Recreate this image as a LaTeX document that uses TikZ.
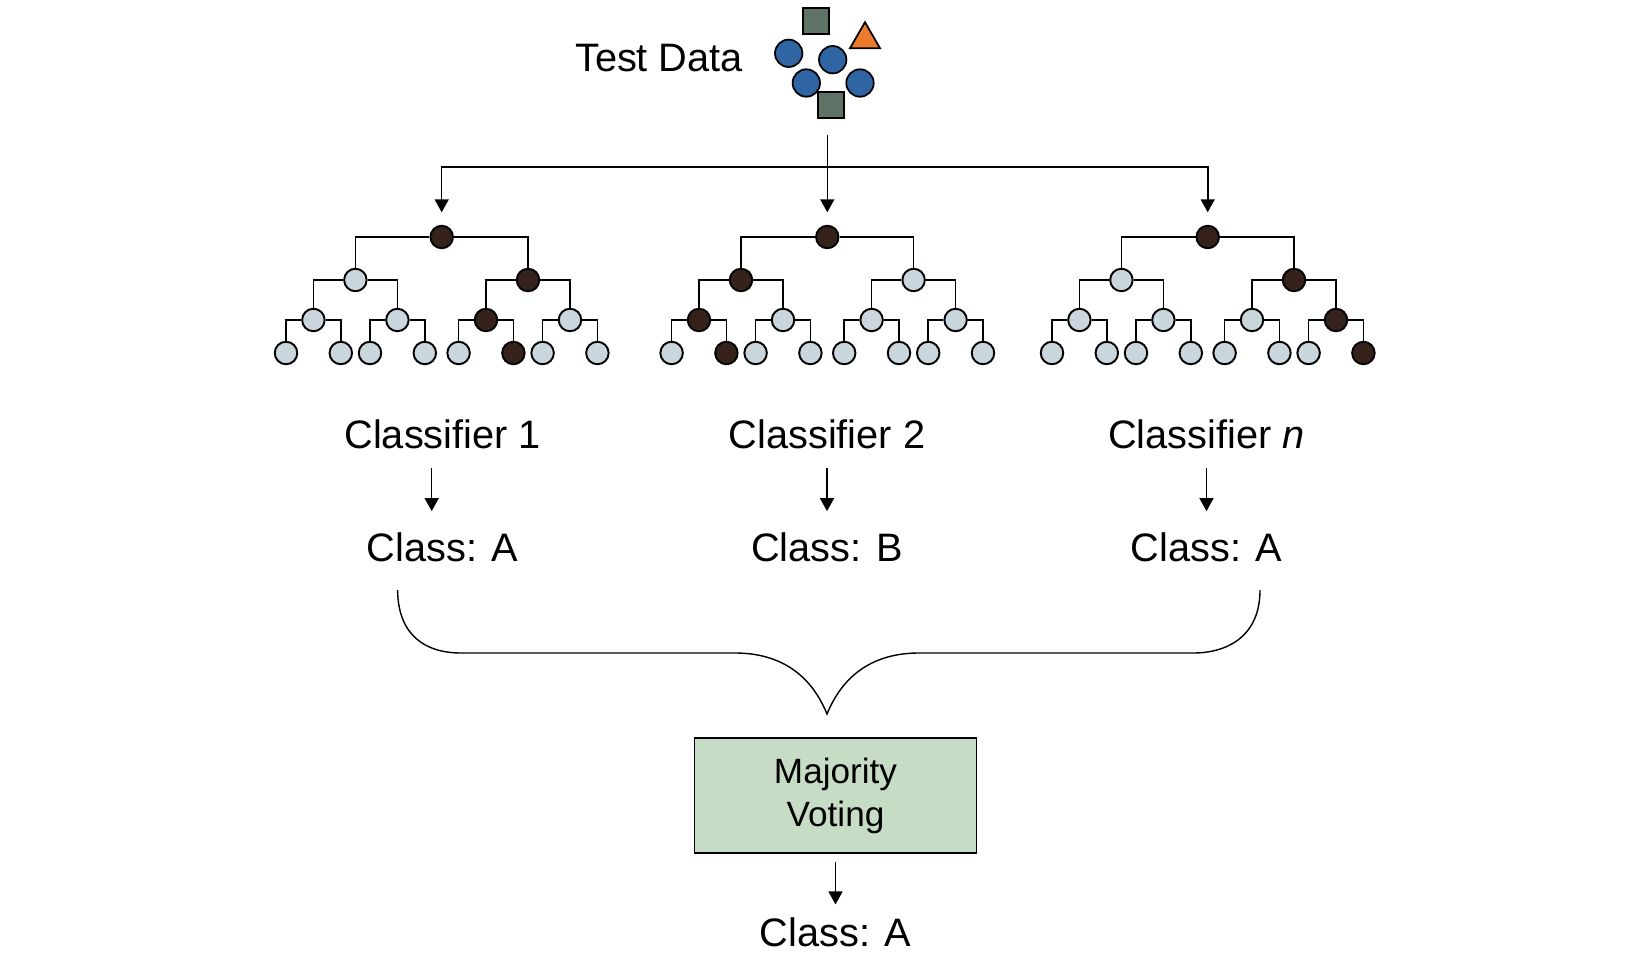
\documentclass[tikz,border=0pt]{standalone}
\usepackage{fontspec}
\setmainfont{Liberation Sans}
\usetikzlibrary{arrows.meta,shapes.geometric}

\definecolor{leafgray}{HTML}{CAD6DD}
\definecolor{leafdark}{HTML}{35221B}
\definecolor{dotblue}{HTML}{2F65A3}
\definecolor{samplegray}{HTML}{5E7366}
\definecolor{sampleorange}{HTML}{EB7B2A}
\definecolor{votegreen}{HTML}{C6DCC4}

% one decision tree: #1 name, #2 x of the root, #3#4#5 path taken (0 left, 1 right)
\newcommand{\clftree}[5]{%
  \node[hit] (#1) at (#2,237) {};
  \foreach \i in {0,1} {
    \ifnum\i=#3 \def\sa{hit}\else\def\sa{miss}\fi
    \node[\sa] (#1-\i) at (#2-86.3+172.6*\i,280) {};
    \draw (#1) -| (#1-\i);
    \foreach \j in {0,1} {
      \ifnum\i\j=#3#4 \def\sb{hit}\else\def\sb{miss}\fi
      \node[\sb] (#1-\i\j) at (#2-128.3+172.6*\i+84*\j,320) {};
      \draw (#1-\i) -| (#1-\i\j);
      \foreach \k in {0,1} {
        \ifnum\i\j\k=#3#4#5 \def\sc{hit}\else\def\sc{miss}\fi
        \node[\sc] (#1-\i\j\k) at (#2-155.7+172.6*\i+84*\j+54.8*\k,353) {};
        \draw (#1-\i\j) -| (#1-\i\j\k);
      }
    }
  }
}

\begin{document}
\begin{tikzpicture}[x=0.1mm, y=-0.1mm, line width=0.45pt,
  miss/.style={circle, draw, line width=0.55pt, fill=leafgray, minimum size=2.25mm, inner sep=0pt},
  hit/.style={miss, fill=leafdark},
  dot/.style={circle, draw, line width=0.5pt, fill=dotblue, minimum size=2.74mm, inner sep=0pt},
  sample/.style={draw, line width=0.5pt, fill=samplegray, minimum size=2.6mm, inner sep=0pt},
  label/.style={font=\fontsize{11.3}{13}\selectfont, inner sep=0pt, anchor=base},
  vote/.style={draw, line width=0.4pt, fill=votegreen, minimum width=28.2mm, minimum height=11.5mm,
    align=center, font=\fontsize{10}{12.2}\selectfont},
  arrow/.style={-{Triangle[width=1.4mm,length=1.3mm]}}]
\useasboundingbox (0,0) rectangle (1650,958);

% test data
\node[label] (td) at (659,71.7) {Test Data};
\node[sample] (s1) at (815.7,21.3) {};
\node[sample] (s2) at (830.8,105.3) {};
\node[regular polygon, regular polygon sides=3, draw, line width=0.5pt, fill=sampleorange,
  minimum size=3.46mm, inner sep=0pt] (tri) at (865,39.5) {};
\foreach \n/\x/\y in {1/788.7/53.3, 2/832.7/59.7, 3/806.3/83, 4/860/83} {
  \node[dot] (d\n) at (\x,\y) {};
}

% the trees
\clftree{t1}{441.7}{1}{0}{1}
\clftree{t2}{827.3}{0}{0}{1}
\clftree{t3}{1207.7}{1}{1}{1}

% feeding the test data to every tree
\coordinate (feed) at (827.3,135);
\coordinate (split) at (827.3,167);
\draw[arrow, shorten >=1.25mm] (feed) -- (t2);
\draw[arrow, shorten >=1.25mm] (split) -| (t1);
\draw[arrow, shorten >=1.25mm] (split) -| (t3);

% classifiers and their votes
\foreach \n/\x/\dx/\t/\c in {1/442.7/-1.1/Classifier 1/A, 2/827/0/Classifier 2/B, 3/1206.5/0/Classifier \textit{n}/A} {
  \node[label] (clf\n) at (\x,448.3) {\t};
  \node[label] (cls\n) at (\x,561.7) {Class: \c};
  \draw[arrow, shorten <=1.84mm, shorten >=2.1mm] ([xshift=\dx mm]clf\n.south) -- ([xshift=\dx mm]cls\n.north);
}

% brace
\draw[line width=0.4pt] (397.6,590) .. controls (398,635) and (425,653) .. (461,653) -- (735,653)
  .. controls (775,653) and (809,670) .. (827,714)
  .. controls (845,670) and (879,653) .. (919,653) -- (1193,653)
  .. controls (1229,653) and (1260,635) .. (1260,590);

% majority voting
\node[vote] (vote) at (835.5,795.5) {Majority\\Voting};
\node[label] (final) at (835.5,946.7) {Class: A};
\draw[arrow, shorten <=0.87mm, shorten >=1.27mm] (vote) -- (final);
\end{tikzpicture}
\end{document}
